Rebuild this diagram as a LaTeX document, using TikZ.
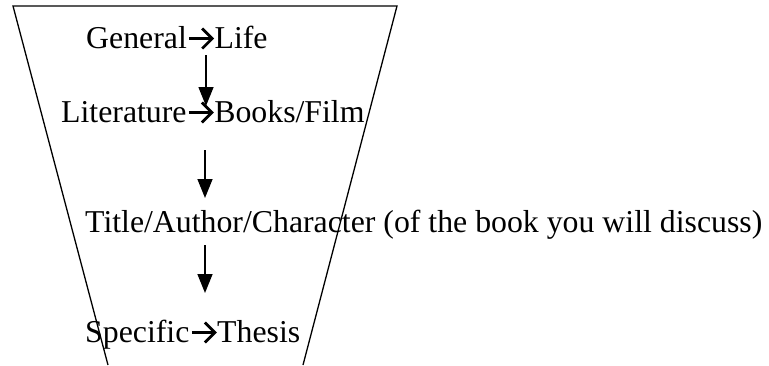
\documentclass[tikz,border=0pt]{standalone}
\usepackage{fontspec}
\setmainfont{Liberation Serif}
\usetikzlibrary{arrows.meta}
\newcommand{\rarr}{\hspace{1pt}\tikz[baseline=0pt,x=1pt,y=1pt]{\draw[line width=2.8pt,line cap=butt,line join=miter] (0,9.5) -- (23,9.5);\draw[line width=2.8pt,line join=miter] (13,-0.5) -- (23,9.5) -- (13,19.5);}\hspace{1pt}}
\begin{document}
\begin{tikzpicture}[x=1pt,y=-1pt,
  lbl/.style={anchor=base west,inner sep=0pt,font=\fontsize{31.8}{36}\selectfont},
  funnel/.style={line width=1.3pt,line join=miter},
  downarr/.style={line width=1.5pt,-{Triangle[length=19pt,width=15pt]}}]
\useasboundingbox (0,0) rectangle (769,365);
\draw[funnel] (108,365) -- (13,6) -- (397,6) -- (303,365);
\node[lbl] (gen) at (86,48) {General\rarr Life};
\node[lbl] (lit) at (61,122) {Literature\rarr Books/Film};
\node[lbl] (tit) at (85,232) {Title/Author/Character (of the book you will discuss)};
\node[lbl] (spe) at (85,342) {Specific\rarr Thesis};
\coordinate (a1s) at (206,55);
\coordinate (a1e) at (206,106);
\coordinate (a2s) at (205,150);
\coordinate (a2e) at (205,198);
\coordinate (a3s) at (205,245);
\coordinate (a3e) at (205,293);
\draw[downarr] (a1s) -- (a1e);
\draw[downarr] (a2s) -- (a2e);
\draw[downarr] (a3s) -- (a3e);
\end{tikzpicture}
\end{document}
